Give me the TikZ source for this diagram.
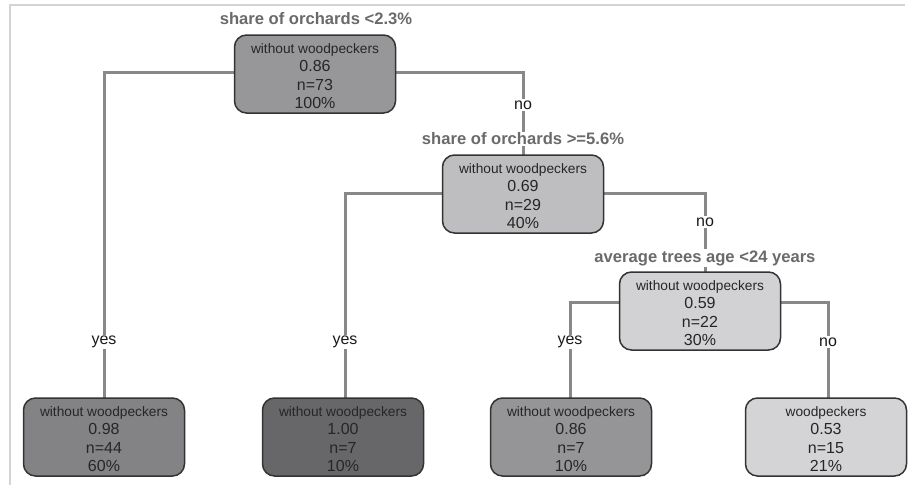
\documentclass[tikz,border=0pt]{standalone}
\usepackage{fontspec}
\setmainfont{Liberation Sans}
\definecolor{edgegray}{HTML}{888888}
\definecolor{boxline}{HTML}{333333}
\definecolor{labgray}{HTML}{6A6A6A}
\definecolor{frame}{HTML}{D4D4D4}
\definecolor{cRoot}{HTML}{97979A}
\definecolor{cN2}{HTML}{BEBEC1}
\definecolor{cN3}{HTML}{D2D2D4}
\definecolor{cL1}{HTML}{838386}
\definecolor{cL2}{HTML}{67676A}
\definecolor{cL3}{HTML}{959598}
\definecolor{cL4}{HTML}{D4D4D6}
\tikzset{
  treebox/.style={draw=boxline, line width=1.5pt, rounded corners=12pt,
    minimum width=161pt, minimum height=78pt, inner sep=0pt},
  boxtext/.style={inner sep=0pt, align=center, text=black!85,
    font=\fontsize{16}{18.5}\selectfont},
  edge/.style={draw=edgegray, line width=3pt},
  splitlab/.style={fill=white, inner sep=1pt, text=labgray,
    font=\bfseries\fontsize{16.6}{18}\selectfont},
  yn/.style={fill=white, inner sep=1.5pt, text=black!90,
    font=\fontsize{16}{18}\selectfont}
}
\newcommand{\boxtxt}[4]{{\fontsize{13.7}{16}\selectfont #1}\\ #2\\ #3\\ #4}
\begin{document}
\begin{tikzpicture}[x=1pt,y=-1pt]
\useasboundingbox (0,0) rectangle (908,485);
% frame
\draw[frame, line width=1.3pt] (10,485) -- (10,5) -- (905,5);
% box positions (for edges)
\path (315,74) coordinate (root) (523,194) coordinate (n2) (700,311) coordinate (n3)
      (104,437) coordinate (l1) (343,437) coordinate (l2) (571,437) coordinate (l3) (826,437) coordinate (l4);
% edges
\path[edge] ([shift={(-80,-2)}]root) -| ([yshift=-39]l1);
\path[edge] ([shift={(80,-2)}]root) -| ([yshift=-39]n2);
\path[edge] ([shift={(-80,-1)}]n2) -| ([shift={(2,-39)}]l2);
\path[edge] ([shift={(80,-1)}]n2) -| ([shift={(5,-39)}]n3);
\path[edge] ([shift={(-80,-9)}]n3) -| ([shift={(-1,-39)}]l3);
\path[edge] ([shift={(80,-9)}]n3) -| ([shift={(2,-39)}]l4);
% boxes
\node[treebox, fill=cRoot] (broot) at (root) {};
\node[treebox, fill=cN2] (bn2) at (n2) {};
\node[treebox, fill=cN3] (bn3) at (n3) {};
\node[treebox, fill=cL1] (bl1) at (l1) {};
\node[treebox, fill=cL2] (bl2) at (l2) {};
\node[treebox, fill=cL3] (bl3) at (l3) {};
\node[treebox, fill=cL4] (bl4) at (l4) {};
% box texts
\node[boxtext] (troot) at ([yshift=-2pt]broot.center) {\boxtxt{without woodpeckers}{0.86}{n=73}{100\%}};
\node[boxtext] (tn2) at ([yshift=-2pt]bn2.center) {\boxtxt{without woodpeckers}{0.69}{n=29}{40\%}};
\node[boxtext] (tn3) at ([yshift=-2pt]bn3.center) {\boxtxt{without woodpeckers}{0.59}{n=22}{30\%}};
\node[boxtext] (tl1) at ([yshift=-2pt]bl1.center) {\boxtxt{without woodpeckers}{0.98}{n=44}{60\%}};
\node[boxtext] (tl2) at ([yshift=-2pt]bl2.center) {\boxtxt{without woodpeckers}{1.00}{n=7}{10\%}};
\node[boxtext] (tl3) at ([yshift=-2pt]bl3.center) {\boxtxt{without woodpeckers}{0.86}{n=7}{10\%}};
\node[boxtext] (tl4) at ([yshift=-2pt]bl4.center) {\boxtxt{woodpeckers}{0.53}{n=15}{21\%}};
% split labels
\node[splitlab] (s1) at (316,19) {share of orchards <2.3\%};
\node[splitlab] (s2) at (523,139) {share of orchards >=5.6\%};
\node[splitlab] (s3) at (705,258) {average trees age <24 years};
% yes/no labels
\node[yn] (y1) at (104,342) {yes};
\node[yn] (y2) at (345,342) {yes};
\node[yn] (y3) at (570,342) {yes};
\node[yn] (no1) at (523,105) {no};
\node[yn] (no2) at (705,222) {no};
\node[yn] (no3) at (828,342) {no};
\end{tikzpicture}
\end{document}
